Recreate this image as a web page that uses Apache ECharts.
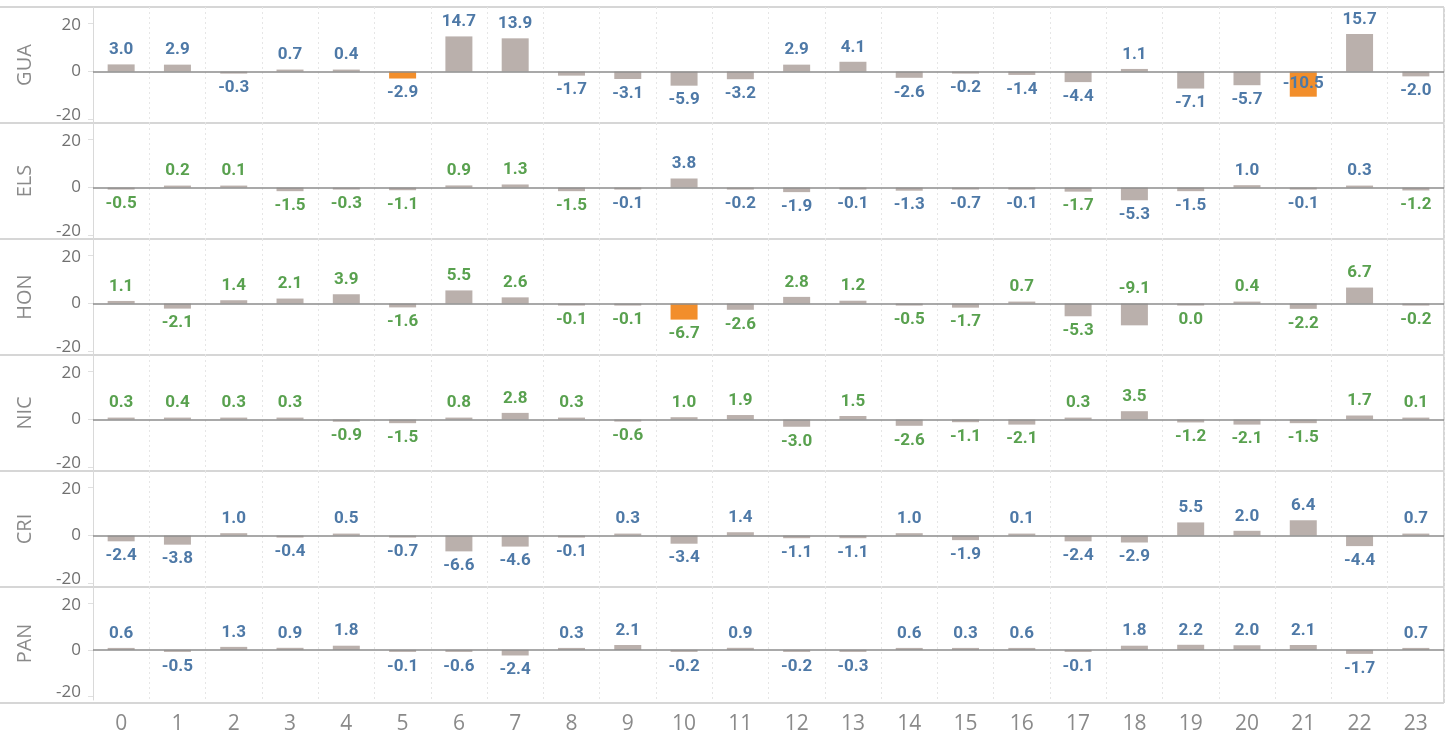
<!doctype html>
<html>
<head>
<meta charset="utf-8">
<title></title>
<style>
html, body { margin: 0; padding: 0; background: #fff; }
#chart { width: 1449px; height: 735px; }
</style>
</head>
<body>
<div id="chart"></div>
<script src="https://cdn.jsdelivr.net/npm/echarts@6/dist/echarts.min.js"></script>
<script>
var hours = ['0','1','2','3','4','5','6','7','8','9','10','11','12','13','14','15','16','17','18','19','20','21','22','23'];
var countries = ['GUA', 'ELS', 'HON', 'NIC', 'CRI', 'PAN'];

var gua = [3.0, 2.9, -0.3, 0.7, 0.4, -2.9, 14.7, 13.9, -1.7, -3.1, -5.9, -3.2, 2.9, 4.1, -2.6, -0.2, -1.4, -4.4, 1.1, -7.1, -5.7, -10.5, 15.7, -2.0];
var els = [-0.5, 0.2, 0.1, -1.5, -0.3, -1.1, 0.9, 1.3, -1.5, -0.1, 3.8, -0.2, -1.9, -0.1, -1.3, -0.7, -0.1, -1.7, -5.3, -1.5, 1.0, -0.1, 0.3, -1.2];
var hon = [1.1, -2.1, 1.4, 2.1, 3.9, -1.6, 5.5, 2.6, -0.1, -0.1, -6.7, -2.6, 2.8, 1.2, -0.5, -1.7, 0.7, -5.3, -9.1, -0.02, 0.4, -2.2, 6.7, -0.2];
var nic = [0.3, 0.4, 0.3, 0.3, -0.9, -1.5, 0.8, 2.8, 0.3, -0.6, 1.0, 1.9, -3.0, 1.5, -2.6, -1.1, -2.1, 0.3, 3.5, -1.2, -2.1, -1.5, 1.7, 0.1];
var cri = [-2.4, -3.8, 1.0, -0.4, 0.5, -0.7, -6.6, -4.6, -0.1, 0.3, -3.4, 1.4, -1.1, -1.1, 1.0, -1.9, 0.1, -2.4, -2.9, 5.5, 2.0, 6.4, -4.4, 0.7];
var pan = [0.6, -0.5, 1.3, 0.9, 1.8, -0.1, -0.6, -2.4, 0.3, 2.1, -0.2, 0.9, -0.2, -0.3, 0.6, 0.3, 0.6, -0.1, 1.8, 2.2, 2.0, 2.1, -1.7, 0.7];
var rows = [gua, els, hon, nic, cri, pan];

// label colour group per hour: b = blue, g = green
var labelGroups = [
    'bbbbbbbbbbbbbbbbbbbbbbbb',
    'gggggggggbbbbbbbbgbbbbbg',
    'gggggggggggggggggggggggg',
    'gggggggggggggggggggggggg',
    'bbbbbbbbbbbbbbbbbbbbbbbb',
    'bbbbbbbbbbbbbbbbbbbbbbbb'
];
// highlighted bars [row, hour]
var highlighted = [[0, 5], [0, 21], [2, 10]];

var yTicks = [-20, 0, 20];

var groupColor = { b: '#4e79a7', g: '#59a14f' };
var barColor = '#bab0ac';
var hiColor = '#f28e2b';
// label placement fixes that tableau made
var labelFix = { '0-21': 'inside', '2-18': 'top' };

var left = 93, right = 5, top0 = 7, rowH = 116;
var W = 1449;

var grids = [], xAxes = [], yAxes = [], series = [], graphics = [];

rows.forEach(function (vals, r) {
    grids.push({ left: left, right: right, top: top0 + r * rowH, height: rowH });
    var last = r === rows.length - 1;
    xAxes.push({
        type: 'category',
        gridIndex: r,
        data: hours,
        axisLine: { show: false },
        axisTick: { show: false },
        splitLine: { show: true, lineStyle: { color: '#e6e6e6', type: [2, 3], width: 1 } },
        axisLabel: {
            show: last,
            color: '#8a8a8a',
            fontSize: 21,
            fontFamily: 'Open Sans',
            margin: 14
        }
    });
    yAxes.push({
        type: 'value',
        gridIndex: r,
        min: -21.5,
        max: 27,
        name: countries[r],
        nameLocation: 'middle',
        nameRotate: 90,
        nameGap: 58,
        nameTextStyle: { color: '#8a8a8a', fontSize: 20, fontFamily: 'Open Sans' },
        splitLine: { show: false },
        axisLine: { show: true, lineStyle: { color: '#d9d9d9', width: 1 } },
        axisTick: { show: true, customValues: yTicks, length: 5, lineStyle: { color: '#e0e0e0' } },
        axisLabel: {
            customValues: yTicks,
            margin: 12,
            formatter: function (v) {
                if (v < 0) return '{low|' + v + '}';
                if (v > 0) return '{high|' + v + '}';
                return '{mid|' + v + '}';
            },
            rich: {
                low: { color: '#707070', fontSize: 17, fontFamily: 'Open Sans', padding: [0, 0, 9, 0] },
                mid: { color: '#707070', fontSize: 17, fontFamily: 'Open Sans' },
                high: { color: '#707070', fontSize: 17, fontFamily: 'Open Sans', padding: [3, 0, 0, 0] }
            }
        }
    });
    var data = vals.map(function (v, c) {
        var isHi = highlighted.some(function (h) { return h[0] === r && h[1] === c; });
        var pos = labelFix[r + '-' + c] || (v < 0 ? 'bottom' : 'top');
        return {
            value: v,
            itemStyle: { color: isHi ? hiColor : barColor },
            label: { position: pos, color: groupColor[labelGroups[r][c]] }
        };
    });
    series.push({
        type: 'bar',
        xAxisIndex: r,
        yAxisIndex: r,
        barWidth: 27,
        barMinHeight: 2,
        data: data,
        label: {
            show: true,
            distance: 6,
            fontSize: 17,
            fontWeight: 'bold',
            fontFamily: 'Roboto',
            formatter: function (p) {
                return Math.abs(p.value) < 0.05 ? '0.0' : p.value.toFixed(1);
            }
        },
        markLine: {
            silent: true,
            symbol: ['none', 'none'],
            label: { show: false },
            lineStyle: { color: '#8c8c8c', width: 1.5, type: 'solid' },
            data: [{ yAxis: 0 }]
        }
    });
});

// row separators and frame
for (var i = 0; i <= rows.length; i++) {
    graphics.push({
        type: 'line',
        shape: { x1: 0, y1: top0 + i * rowH, x2: W - right, y2: top0 + i * rowH },
        style: { stroke: '#d6d6d6', lineWidth: 2 },
        silent: true
    });
}
graphics.push({
    type: 'line',
    shape: { x1: W - right, y1: top0, x2: W - right, y2: top0 + rows.length * rowH },
    style: { stroke: '#d6d6d6', lineWidth: 2 },
    silent: true
});

var myChart = echarts.init(document.getElementById('chart'));
myChart.setOption({
    animation: false,
    backgroundColor: '#fff',
    grid: grids,
    xAxis: xAxes,
    yAxis: yAxes,
    series: series,
    graphic: graphics
});
</script>
</body>
</html>
